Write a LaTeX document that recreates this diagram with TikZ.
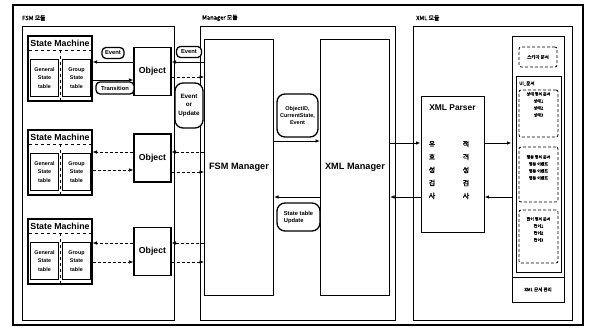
\documentclass[tikz,border=0pt]{standalone}
\usepackage{fontspec}
\setmainfont{Liberation Sans}
\newfontfamily\kr{Noto Sans CJK KR}[FakeBold=1.5]
\usetikzlibrary{arrows.meta}
\newcommand\myfs[1]{\fontsize{#1}{#1}\selectfont}
\tikzset{
  panel/.style={draw, line width=1pt, inner sep=0pt},
  smbox/.style={draw, line width=1.1pt, inner sep=0pt},
  tbl/.style={draw, line width=1.4pt, inner sep=0pt, minimum width=28pt, minimum height=37pt, align=center, font=\bfseries\fontsize{5.4}{8.5}\selectfont},
  objbox/.style={draw, line width=1.1pt, inner sep=0pt, minimum width=37pt, minimum height=48pt, font=\bfseries\myfs{8.7}},
  mgr/.style={draw, line width=1pt, inner sep=0pt, minimum width=69pt, minimum height=255pt, font=\bfseries\myfs{9.2}},
  lbl/.style={draw, line width=1.3pt, fill=white, rounded corners=4pt, inner sep=1pt, align=center, font=\bfseries\fontsize{5.8}{7}\selectfont},
  arr/.style={-{Latex[length=4.5pt,width=3.5pt]}, line width=0.8pt},
  dl/.style={densely dashed, line width=0.6pt},
  doc/.style={draw, densely dashed, line width=0.8pt, rounded corners=2pt, inner sep=0pt, minimum width=39pt},
  doctext/.style={anchor=north, align=center, font=\kr\fontsize{4}{7}\selectfont, inner sep=0pt},
  title/.style={anchor=west, font=\kr\myfs{5.8}, inner sep=0pt}
}
\begin{document}
\begin{tikzpicture}[x=1pt,y=-1pt]
\useasboundingbox (0,0) rectangle (592,329);
\draw[line width=1.1pt] (13,5) rectangle (583,325);

% panels
\node[panel, minimum width=152pt, minimum height=293pt] (fsmp) at (98,173.5) {};
\node[panel, minimum width=195pt, minimum height=293pt] (mgrp) at (297.5,173.5) {};
\node[panel, minimum width=159pt, minimum height=293pt] (xmlp) at (492.5,173.5) {};
\node[title] (fsml) at (22,18) {FSM 모듈};
\node[title] (mgrl) at (202,18) {Manager 모듈};
\node[title] (xmll) at (416,18) {XML 모듈};

% state machines
\foreach \k/\ty in {1/36,2/130,3/219}{
  \pgfmathsetmacro\yc{\ty+32.5}
  \pgfmathsetmacro\ya{\ty+7}
  \pgfmathsetmacro\yb{\ty+14}
  \pgfmathsetmacro\yd{\ty+65}
  \pgfmathsetmacro\ye{\ty+42}
  \node[smbox, minimum width=64pt, minimum height=65pt] (sm\k) at (60,\yc) {};
  \node[font=\bfseries\myfs{8.8}, inner sep=0pt] (smt\k) at (60,\ya) {State Machine};
  \draw[dashed, line width=0.8pt] (29,\yb) -- (91,\yb);
  \draw[dashed, line width=0.6pt] (60,\yb) -- (60,\yd);
  \node[tbl] (gen\k) at (44.5,\ye) {General\\State\\table};
  \node[tbl] (grp\k) at (76.5,\ye) {Group\\State\\table};
}

% objects
\node[objbox] (obj1) at (152.5,71.5) {Object};
\node[objbox] (obj2) at (152.5,158) {Object};
\node[objbox] (obj3) at (152.5,251.5) {Object};

% managers
\node[mgr] (fsm) at (239,167.5) {FSM Manager};
\node[mgr] (xmgr) at (355,167.5) {XML Manager};

% SM <-> object
\draw[arr] (obj1.west |- 0,62) -- (sm1.east |- 0,62);
\draw[arr] (sm1.east |- 0,80) -- (obj1.west |- 0,80);
\draw[arr,dl] (obj2.west |- 0,152) -- (sm2.east |- 0,152);
\draw[arr,dl] (sm2.east |- 0,170) -- (obj2.west |- 0,170);
\draw[arr,dl] (obj3.west |- 0,243) -- (sm3.east |- 0,243);
\draw[arr,dl] (sm3.east |- 0,262) -- (obj3.west |- 0,262);

% object <-> FSM manager
\draw[arr] (fsm.west |- 0,62) -- (obj1.east |- 0,62);
\draw[arr,dl] (obj1.east |- 0,77) -- (fsm.west |- 0,77);
\draw[arr,dl] (fsm.west |- 0,152) -- (obj2.east |- 0,152);
\draw[arr,dl] (obj2.east |- 0,172) -- (fsm.west |- 0,172);
\draw[arr,dl] (fsm.west |- 0,243) -- (obj3.east |- 0,243);
\draw[arr,dl] (obj3.east |- 0,262) -- (fsm.west |- 0,262);

% labels
\node[lbl, minimum width=22pt, minimum height=11pt] (ev1) at (113,53) {Event};
\node[lbl, minimum width=38pt, minimum height=12pt] (tr1) at (115,88) {Transition};
\node[lbl, minimum width=25pt, minimum height=11pt] (ev2) at (189,52) {Event};
\node[lbl, minimum width=28pt, minimum height=45pt, rounded corners=8pt, font=\bfseries\fontsize{6.2}{8.2}\selectfont] (eou) at (189,105.5) {Event\\or\\Update};

% manager arrows
\draw[arr] (fsm.east |- 0,141) -- (xmgr.west |- 0,141);
\draw[arr] (xmgr.west |- 0,197) -- (fsm.east |- 0,197);
\node[lbl, minimum width=41pt, minimum height=43pt, rounded corners=8pt, font=\bfseries\fontsize{5.5}{7}\selectfont] (oce) at (297.5,115.5) {ObjectID,\\CurrentState,\\Event};
\node[lbl, minimum width=43pt, minimum height=28pt, rounded corners=8pt, align=left] (stu) at (298.5,217) {State table\\Update};

% XML module
\node[panel, minimum width=63pt, minimum height=135pt] (parser) at (452.5,164.5) {};
\node[font=\bfseries\myfs{8.4}, inner sep=0pt] (pt) at (452.5,108) {XML Parser};
\node[align=center, inner sep=0pt, font=\kr\fontsize{7}{13}\selectfont] (v1) at (432,170) {유\\효\\성\\검\\사};
\node[align=center, inner sep=0pt, font=\kr\fontsize{7}{13}\selectfont] (v2) at (466,170) {적\\격\\성\\검\\사};

\node[panel, minimum width=52pt, minimum height=265pt] (cont) at (538,169.5) {};
\node[panel, line width=0.8pt, minimum width=45pt, minimum height=196pt] (ui) at (538.5,174) {};
\draw[line width=0.8pt] (cont.west |- 0,277) -- (cont.east |- 0,277);
\node[font=\kr\myfs{4.5}, inner sep=0pt] (xdoc) at (538,289.5) {XML 문서 관리};
\node[doc, minimum width=38pt, minimum height=20pt, font=\kr\myfs{4.5}] (sch) at (538,57) {스키마 문서};
\node[anchor=west, font=\kr\myfs{4.5}, inner sep=0pt] (uil) at (519,83.5) {UI\_문서};
\node[doc, minimum height=47pt] (d1) at (538.5,113.5) {};
\node[doctext] (d1t) at (538.5,92) {상태 정의 문서\\상태1\\상태2\\상태3};
\node[doc, minimum height=55pt] (d2) at (538.5,174.5) {};
\node[doctext] (d2t) at (538.5,155) {행동 정의 문서\\행동 이벤트\\행동 이벤트\\행동 이벤트};
\node[doc, minimum height=53pt] (d3) at (538.5,236.5) {};
\node[doctext] (d3t) at (538.5,217) {전이 정의 문서\\전이1\\전이2\\전이3};

\draw[arr] (xmgr.east |- 0,143) -- (parser.west |- 0,143);
\draw[arr] (parser.west |- 0,197) -- (xmgr.east |- 0,197);
\draw[arr] (parser.east |- 0,143) -- (cont.west |- 0,143);
\draw[arr] (cont.west |- 0,197) -- (parser.east |- 0,197);
\end{tikzpicture}
\end{document}
